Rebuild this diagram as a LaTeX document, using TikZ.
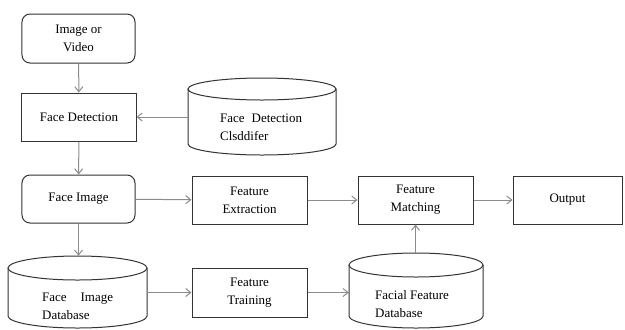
\documentclass[tikz,border=0pt]{standalone}
\usepackage{fontspec}
\setmainfont{Liberation Serif}
\usetikzlibrary{arrows.meta}
\newcommand\mycyl[5]{%
  \draw[cyl] (#1,#2+#5) -- (#1,#4-#5)
    arc[start angle=180,end angle=0,x radius={(#3-#1)/2},y radius=#5] -- (#3,#2+#5);
  \draw[cyl] ({(#1+#3)/2},#2+#5) ellipse[x radius={(#3-#1)/2},y radius=#5];}
\begin{document}
\begin{tikzpicture}[x=1bp,y=-1bp, font=\fontsize{13}{18}\selectfont,
 box/.style={draw=black!80, line width=1bp, minimum width=115bp, minimum height=48bp, align=center, inner sep=0},
 rbox/.style={box, rounded corners=8bp, minimum width=113bp},
 txt/.style={align=left, inner sep=0, anchor=west},
 conn/.style={draw=black!45, line width=1bp, -{Straight Barb[length=5bp,width=8bp]}},
 cyl/.style={draw=black!80, line width=1bp}]
\useasboundingbox[fill=white] (0,0) rectangle (625,329);
% boxes
\node[rbox, minimum height=49bp] (vid) at (78.5,38.5) {Image or\\Video};
\node[box, minimum width=114bp] (det) at (79,117) {Face Detection};
\node[rbox] (img) at (78.5,199) {Face Image};
\node[box] (ext) at (249.5,200) {Feature\\Extraction};
\node[box] (mat) at (415.5,200) {Feature\\Matching};
\node[box, minimum width=109bp] (out) at (567.5,200) {Output};
\node[box, minimum height=49bp] (trn) at (249.5,292.5) {Feature\\Training};
% cylinders
\mycyl{188}{78}{336}{155}{11}
\node[inner sep=0, minimum width=148bp, minimum height=77bp] (cls) at (262,116.5) {};
\node[txt] (clsT) at (220,127) {Face\hspace{7bp}Detection\\Clsddifer};
\mycyl{8}{256}{147}{328}{12}
\node[inner sep=0, minimum width=139bp, minimum height=72bp] (fidb) at (77.5,292) {};
\node[txt] (fidbT) at (42,306.5) {Face\hspace{14bp}Image\\Database};
\mycyl{349}{253}{483}{328}{12}
\node[inner sep=0, minimum width=134bp, minimum height=75bp] (fdb) at (416,290.5) {};
\node[txt] (fdbT) at (375,304) {Facial Feature\\Database};
% connectors
\draw[conn] (vid) -- (det);
\draw[conn] (cls.west |- det.east) -- (det.east);
\draw[conn] (det) -- (img);
\draw[conn] (img.south) -- (fidb.north -| img.south);
\draw[conn] (img) -- (ext);
\draw[conn] (ext) -- (mat);
\draw[conn] (mat) -- (out);
\draw[conn] (fidb.east |- trn.west) -- (trn.west);
\draw[conn] (trn.east) -- (fdb.west |- trn.east);
\draw[conn] (fdb.north -| mat.south) -- (mat.south);
\end{tikzpicture}
\end{document}
